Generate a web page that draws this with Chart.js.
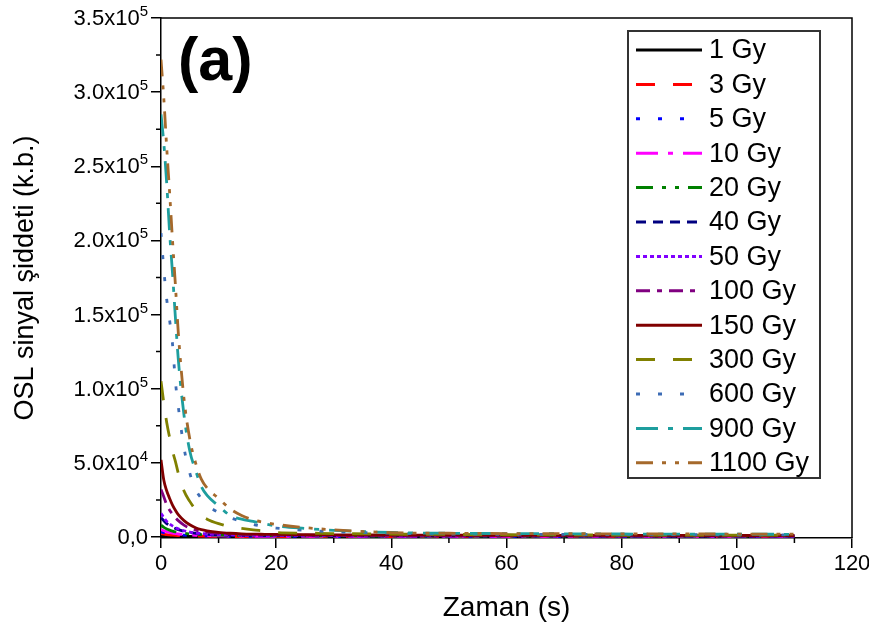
<!DOCTYPE html>
<html>
<head>
<meta charset="utf-8">
<script src="https://cdn.jsdelivr.net/npm/chart.js@4.4.1/dist/chart.umd.min.js"></script>
<style>
  html, body { margin: 0; padding: 0; background: #fff; }
  #wrap { width: 869px; height: 631px; }
</style>
</head>
<body>
<div id="wrap"><canvas id="osl" width="869" height="631"></canvas></div>
<script>
// OSL decay curves, one per dose
const times = [0, 0.5, 1, 1.5, 2, 2.5, 3, 4, 5, 6, 7, 8, 10, 12, 14, 16, 18, 20, 25, 30, 40, 50, 60, 80, 110];

const doseLabels = ['1 Gy', '3 Gy', '5 Gy', '10 Gy', '20 Gy', '40 Gy', '50 Gy', '100 Gy', '150 Gy', '300 Gy', '600 Gy', '900 Gy', '1100 Gy'];

const gy1    = [900, 800, 700, 620, 550, 500, 450, 380, 320, 280, 250, 230, 200, 180, 170, 160, 150, 150, 140, 130, 120, 120, 110, 110, 100];
const gy3    = [2200, 1900, 1600, 1400, 1200, 1050, 950, 780, 650, 560, 500, 450, 380, 340, 310, 290, 280, 270, 250, 240, 230, 220, 210, 200, 200];
const gy5    = [3500, 3000, 2600, 2200, 1900, 1700, 1500, 1200, 1000, 850, 750, 650, 550, 480, 430, 400, 380, 360, 340, 320, 300, 290, 280, 270, 260];
const gy10   = [5000, 4200, 3500, 3000, 2600, 2300, 2000, 1600, 1300, 1100, 950, 850, 700, 600, 550, 500, 480, 460, 440, 420, 400, 380, 370, 360, 350];
const gy20   = [8000, 6500, 5400, 4600, 4000, 3500, 3100, 2500, 2100, 1800, 1600, 1400, 1200, 1050, 950, 900, 850, 800, 750, 700, 650, 600, 600, 550, 550];
const gy40   = [13000, 11000, 9000, 7700, 6600, 5700, 5000, 3800, 3000, 2500, 2100, 1800, 1500, 1300, 1100, 1000, 950, 900, 850, 800, 750, 700, 700, 650, 600];
const gy50   = [16000, 13000, 10500, 8800, 7500, 6400, 5500, 4200, 3300, 2700, 2300, 2000, 1600, 1400, 1200, 1100, 1000, 1000, 900, 850, 800, 750, 700, 700, 650];
const gy100  = [32000, 27000, 21500, 18000, 15500, 13000, 11000, 8000, 6000, 4700, 3800, 3200, 2400, 2000, 1700, 1500, 1400, 1300, 1200, 1100, 1000, 900, 900, 800, 800];
const gy150  = [52000, 38000, 31000, 26000, 21500, 18000, 15000, 11000, 8200, 6200, 4900, 4100, 3100, 2500, 2100, 1900, 1800, 1700, 1500, 1400, 1300, 1200, 1150, 1100, 1000];
const gy300  = [105000, 90000, 77000, 67000, 58000, 51000, 43000, 31000, 24000, 18500, 14500, 12000, 9000, 7000, 5800, 4800, 4000, 3000, 2600, 2300, 1900, 1700, 1500, 1300, 1200];
const gy600  = [205000, 180000, 160000, 146000, 130000, 105000, 88000, 60000, 43000, 32000, 26000, 21500, 16500, 13000, 10500, 8500, 7000, 6000, 4500, 3500, 2500, 2000, 1800, 1600, 1400];
const gy900  = [285000, 265000, 238000, 205000, 178000, 148000, 120000, 82000, 58000, 45000, 34000, 28000, 21000, 14500, 12000, 10500, 8800, 7500, 5800, 4500, 3000, 2500, 2300, 2000, 1800];
const gy1100 = [322000, 295000, 262000, 232000, 200000, 170000, 138000, 93000, 66000, 50000, 39000, 33000, 26000, 19000, 14500, 11500, 9800, 8500, 6300, 4800, 2900, 2500, 2300, 2100, 1900];

const doseSeries = [gy1, gy3, gy5, gy10, gy20, gy40, gy50, gy100, gy150, gy300, gy600, gy900, gy1100];

// y tick labels as mantissa + power of ten (drawn with a real superscript)
const yTicks = [0, 50000, 100000, 150000, 200000, 250000, 300000, 350000];
const yTickBase = ['0,0', '5.0x10', '1.0x10', '1.5x10', '2.0x10', '2.5x10', '3.0x10', '3.5x10'];
const yTickExp = ['', '4', '5', '5', '5', '5', '5', '5'];
const xTicks = [0, 20, 40, 60, 80, 100, 120];

// line styles (Origin-like)
const lineColors = ['#000000', '#ff0000', '#0000ff', '#ff00ff', '#008000', '#000080', '#8000ff', '#800080', '#800000', '#808000', '#3d6cb5', '#1e9e9e', '#a5692b'];
const lineDashes = [[], [19, 18], [4, 18], [22, 10, 5, 10], [17, 9, 4, 9, 4, 9], [10, 7], [4, 3], [14, 7, 5, 7], [], [19, 18], [4, 18], [22, 10, 5, 10], [17, 9, 4, 9, 4, 9]];

const FONT = "'Liberation Sans', Arial, sans-serif";

const datasets = doseSeries.map((vals, i) => ({
  label: doseLabels[i],
  data: vals.map((v, k) => ({ x: times[k], y: v })),
  borderColor: lineColors[i],
  backgroundColor: lineColors[i],
  borderDash: lineDashes[i],
  borderWidth: 2.8,
  pointRadius: 0,
  cubicInterpolationMode: 'monotone',
  fill: false,
  order: doseSeries.length - i
}));

// frame (top/right), minor ticks, y labels with superscripts, legend box and panel label
const decorations = {
  id: 'decorations',
  afterDraw(chart) {
    const { ctx, chartArea: a, scales } = chart;
    ctx.save();
    ctx.strokeStyle = '#000';
    ctx.lineWidth = 1.5;
    ctx.beginPath();
    ctx.moveTo(a.left, a.top); ctx.lineTo(a.right, a.top); ctx.lineTo(a.right, a.bottom);
    ctx.stroke();

    // minor ticks
    ctx.beginPath();
    for (let v = 25000; v < 350000; v += 50000) {
      const y = scales.y.getPixelForValue(v);
      ctx.moveTo(a.left, y); ctx.lineTo(a.left - 5, y);
    }
    for (let v = 10; v < 120; v += 20) {
      const x = scales.x.getPixelForValue(v);
      ctx.moveTo(x, a.bottom); ctx.lineTo(x, a.bottom + 5);
    }
    ctx.stroke();

    // y tick labels
    ctx.fillStyle = '#000';
    ctx.textAlign = 'right';
    yTicks.forEach((v, k) => {
      const y = scales.y.getPixelForValue(v);
      const right = a.left - 13;
      let xEnd = right;
      if (yTickExp[k]) {
        ctx.font = '15px ' + FONT;
        ctx.textBaseline = 'alphabetic';
        ctx.fillText(yTickExp[k], right, y - 2);
        xEnd = right - ctx.measureText(yTickExp[k]).width;
      }
      ctx.font = '22px ' + FONT;
      ctx.textBaseline = 'middle';
      ctx.fillText(yTickBase[k], xEnd, y + 1);
    });

    // legend
    const lx = 628, ly = 31, lw = 192, lh = 447;
    ctx.lineWidth = 2;
    ctx.strokeStyle = '#333';
    ctx.strokeRect(lx, ly, lw, lh);
    ctx.font = '27px ' + FONT;
    ctx.textBaseline = 'middle';
    ctx.textAlign = 'left';
    chart.data.datasets.forEach((ds, i) => {
      const y = 50 + i * 34.4;
      ctx.beginPath();
      ctx.setLineDash(ds.borderDash);
      ctx.strokeStyle = ds.borderColor;
      ctx.lineWidth = 3;
      ctx.moveTo(636, y); ctx.lineTo(702, y);
      ctx.stroke();
      ctx.setLineDash([]);
      ctx.fillStyle = '#000';
      ctx.fillText(ds.label, 709, y + 1);
    });

    // panel label
    ctx.font = 'bold 61px ' + FONT;
    ctx.fillStyle = '#000';
    ctx.textBaseline = 'middle';
    ctx.fillText('(a)', 178, 63);
    ctx.restore();
  }
};

new Chart(document.getElementById('osl'), {
  type: 'line',
  data: { datasets },
  plugins: [decorations],
  options: {
    responsive: false,
    animation: false,
    devicePixelRatio: 1,
    layout: { padding: { top: 18, right: 17, left: 0, bottom: 0 } },
    plugins: { legend: { display: false }, tooltip: { enabled: false } },
    scales: {
      x: {
        type: 'linear',
        min: 0, max: 120,
        afterBuildTicks: s => { s.ticks = xTicks.map(v => ({ value: v })); },
        afterFit: s => { s.height = 93; s.paddingLeft = 0; s.paddingRight = 0; },
        grid: { drawOnChartArea: false, drawTicks: true, tickLength: 10, color: '#000', lineWidth: 1.5 },
        border: { display: true, color: '#000', width: 1.5 },
        ticks: { color: '#000', padding: 3, font: { family: FONT, size: 22 }, maxRotation: 0 },
        title: { display: true, text: 'Zaman (s)', color: '#000', font: { family: FONT, size: 28 }, padding: { top: 4, bottom: 6 } }
      },
      y: {
        type: 'linear',
        min: -700, max: 350000,
        afterBuildTicks: s => { s.ticks = yTicks.map(v => ({ value: v })); },
        afterFit: s => { s.width = 161; s.paddingTop = 0; s.paddingBottom = 0; },
        grid: { drawOnChartArea: false, drawTicks: true, tickLength: 10, color: '#000', lineWidth: 1.5 },
        border: { display: true, color: '#000', width: 1.5 },
        ticks: { display: false },
        title: { display: true, text: 'OSL sinyal şiddeti (k.b.)', color: '#000', font: { family: FONT, size: 27 }, padding: { top: 9, bottom: 4 } }
      }
    }
  }
});
</script>
</body>
</html>
